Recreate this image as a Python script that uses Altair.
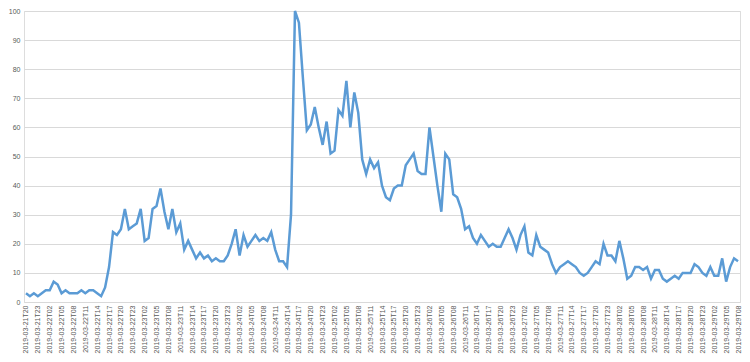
import altair as alt
import pandas as pd

# Hourly categories from 2019-03-21T20 to 2019-03-29T08
hours = [t.strftime("%Y-%m-%dT%H") for t in pd.date_range("2019-03-21 20:00", "2019-03-29 08:00", freq="h")]

values = [
    3, 2, 3, 2, 3, 4, 4, 7, 6, 3, 4, 3, 3, 3, 4, 3, 4, 4, 3, 2, 5, 12, 24, 23,
    25, 32, 25, 26, 27, 32, 21, 22, 32, 33, 39, 31, 25, 32, 24, 27, 18, 21, 18, 15, 17, 15, 16,
    14, 15, 14, 14, 16, 20, 25, 16, 23, 19, 21, 23, 21, 22, 21, 24, 18, 14, 14, 12,
    30, 100, 96, 77, 59, 61, 67, 60, 54, 62, 51, 52, 66, 64, 76, 60, 72, 65, 49, 44, 49, 46, 48,
    40, 36, 35, 39, 40, 40, 47, 49, 51, 45, 44, 44, 60, 50, 40, 31, 51, 49, 37, 36, 32, 25, 26,
    22, 20, 23, 21, 19, 20, 19, 19, 22, 25, 22, 18, 23, 26, 17, 16, 23, 19, 18, 17, 13, 10,
    12, 13, 14, 13, 12, 10, 9, 10, 12, 14, 13, 20, 16, 16, 14, 21, 15, 8, 9, 12, 12, 11, 12,
    8, 11, 11, 8, 7, 8, 9, 8, 10, 10, 10, 13, 12, 10, 9, 12, 9, 9, 15, 7, 12, 15, 14,
]

tick_labels = hours[::3]
y_ticks = list(range(0, 101, 10))

df = pd.DataFrame({"time": hours, "value": values})

chart = (
    alt.Chart(df)
    .mark_line(color="#5B9BD5", strokeWidth=2.5)
    .encode(
        x=alt.X(
            "time:O",
            sort=hours,
            scale=alt.Scale(type="point", padding=0.5),
            axis=alt.Axis(
                title=None,
                values=tick_labels,
                labelAngle=-90,
                labelFontSize=7,
                labelFont="Liberation Sans",
                labelColor="#595959",
                labelPadding=3,
                ticks=False,
                domainColor="#D9D9D9",
                domainWidth=1,
                grid=False,
                labelOverlap=False,
            ),
        ),
        y=alt.Y(
            "value:Q",
            scale=alt.Scale(domain=[0, 100], nice=False),
            axis=alt.Axis(
                title=None,
                values=y_ticks,
                labelFontSize=7,
                labelFont="Liberation Sans",
                labelColor="#595959",
                labelPadding=4,
                ticks=False,
                domain=False,
                gridColor="#D9D9D9",
                gridWidth=1,
            ),
        ),
    )
    .properties(
        width=716,
        height=291,
        autosize=alt.AutoSizeParams(type="none"),
        padding={"left": 16, "top": 3, "right": 2, "bottom": 52},
    )
    .configure_view(stroke=None)
    .configure(background="white")
)

chart.save("out.html", embed_options={"renderer": "svg", "actions": False})
